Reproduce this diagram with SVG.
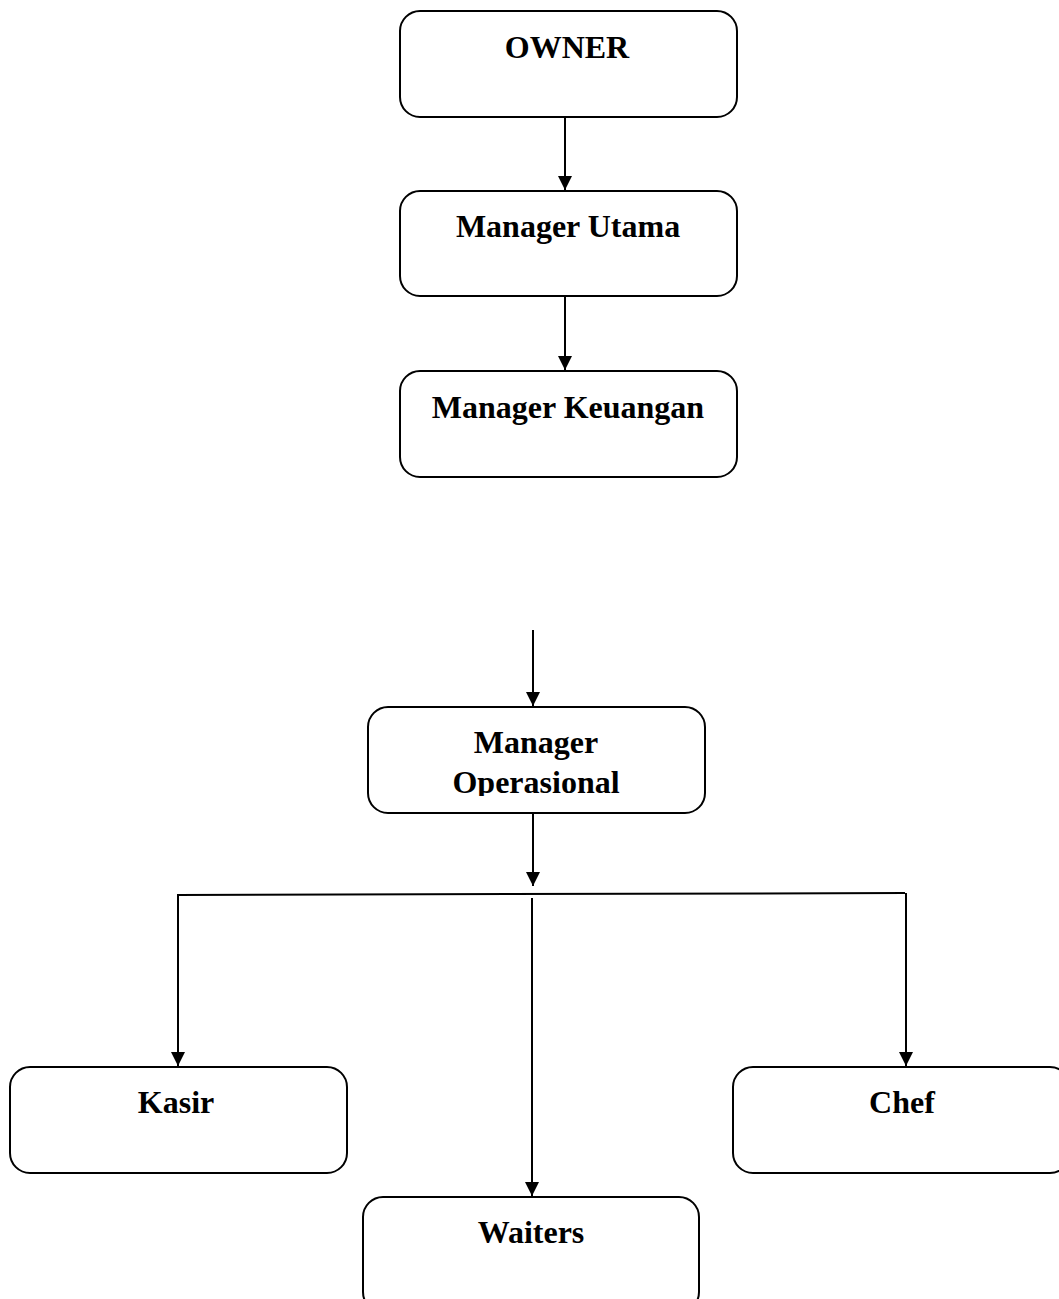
<svg xmlns="http://www.w3.org/2000/svg" width="1059" height="1299" viewBox="0 0 1059 1299">
<style>
.box{fill:#fff;stroke:#000;stroke-width:2}
.lbl{font-family:"Liberation Serif","Times New Roman",serif;font-weight:bold;font-size:32px;fill:#000;text-anchor:middle}
.ln{stroke:#000;stroke-width:2;fill:none}
</style>
<defs>
<marker id="ah" markerWidth="14" markerHeight="16" refX="14" refY="7" orient="auto" markerUnits="userSpaceOnUse">
<path d="M0,0 L14,7 L0,14 Z" fill="#000"/>
</marker>
<clipPath id="opclip"><rect x="367" y="707" width="338" height="89"/></clipPath>
</defs>
<rect width="1059" height="1299" fill="#fff"/>
<g id="connectors">
<line class="ln" x1="565" y1="117" x2="565" y2="190" marker-end="url(#ah)"/>
<line class="ln" x1="565" y1="296" x2="565" y2="370" marker-end="url(#ah)"/>
<line class="ln" x1="533" y1="630" x2="533" y2="706" marker-end="url(#ah)"/>
<line class="ln" x1="533" y1="813" x2="533" y2="886" marker-end="url(#ah)"/>
<line class="ln" x1="177" y1="895" x2="905" y2="893"/>
<line class="ln" x1="178" y1="895" x2="178" y2="1066" marker-end="url(#ah)"/>
<line class="ln" x1="532" y1="898" x2="532" y2="1196" marker-end="url(#ah)"/>
<line class="ln" x1="906" y1="893" x2="906" y2="1066" marker-end="url(#ah)"/>
</g>
<g id="owner">
<rect class="box" x="400" y="11" width="337" height="106" rx="20"/>
<text class="lbl" x="567" y="58">OWNER</text>
</g>
<g id="manager-utama">
<rect class="box" x="400" y="191" width="337" height="105" rx="20"/>
<text class="lbl" x="568" y="237">Manager Utama</text>
</g>
<g id="manager-keuangan">
<rect class="box" x="400" y="371" width="337" height="106" rx="20"/>
<text class="lbl" x="568" y="418">Manager Keuangan</text>
</g>
<g id="manager-operasional">
<rect class="box" x="368" y="707" width="337" height="106" rx="20"/>
<g clip-path="url(#opclip)">
<text class="lbl" x="536" y="753">Manager</text>
<text class="lbl" x="536" y="793">Operasional</text>
</g>
</g>
<g id="kasir">
<rect class="box" x="10" y="1067" width="337" height="106" rx="20"/>
<text class="lbl" x="176" y="1113">Kasir</text>
</g>
<g id="chef">
<rect class="box" x="733" y="1067" width="337" height="106" rx="20"/>
<text class="lbl" x="902" y="1113">Chef</text>
</g>
<g id="waiters">
<rect class="box" x="363" y="1197" width="336" height="115" rx="20"/>
<text class="lbl" x="531" y="1243">Waiters</text>
</g>
</svg>
